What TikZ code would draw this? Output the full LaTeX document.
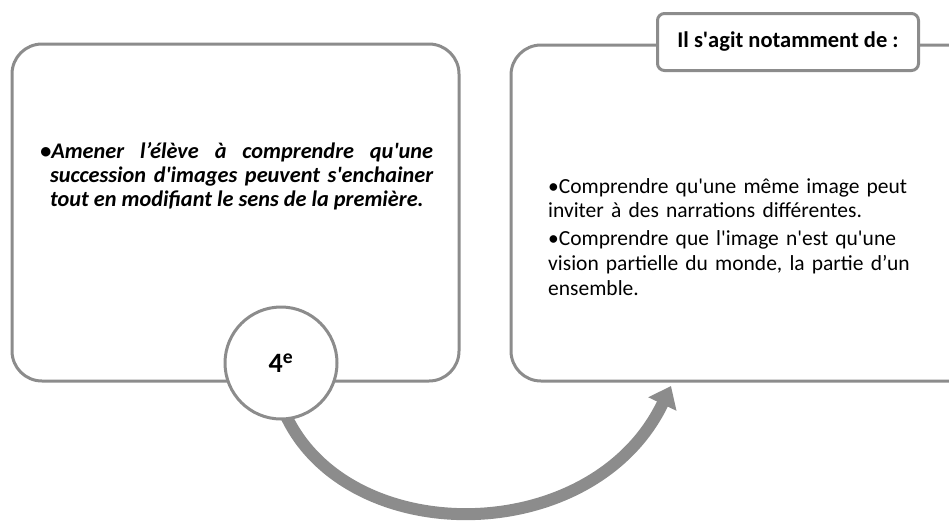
\documentclass[tikz,border=0pt]{standalone}
\usepackage{fontspec}
\setmainfont{Carlito}
\usetikzlibrary{arrows.meta}
\definecolor{boxgray}{HTML}{8C8C8C}
\newcommand{\ap}{\textquotesingle}
\tikzset{
  bigbox/.style={draw=boxgray, line width=3pt, rounded corners=30pt, fill=white},
  labelbox/.style={draw=boxgray, line width=3pt, rounded corners=7pt, fill=white, minimum width=261pt, minimum height=57pt, font=\bfseries\fontsize{22.5}{26}\selectfont},
  yearcircle/.style={draw=boxgray, line width=3pt, circle, fill=white, minimum size=112pt, font=\bfseries\fontsize{28}{30}\selectfont},
  bigarrow/.style={draw=boxgray, line width=12pt, -{Triangle[width=30pt,length=20pt]}},
  lefttext/.style={anchor=north west, inner sep=0pt, text width=393pt, align=justify, font=\bfseries\itshape\fontsize{22.3}{24}\selectfont},
  righttext/.style={anchor=north west, inner sep=0pt, text width=390pt, align=left, font=\fontsize{21.5}{24.8}\selectfont}
}
\begin{document}
\begin{tikzpicture}[x=1pt,y=-1pt]
\useasboundingbox (0,0) rectangle (949,520);
\clip (0,0) rectangle (949,520);
% left box
\draw[bigbox] (12,44) rectangle (459,381);
\node (lbox) at (235.5,212.5) {};
% right box
\draw[bigbox] (511,45) rectangle (985,381);
\node (rbox) at (748,213) {};
% header label
\node[labelbox] (head) at (788,42) {Il s\ap agit notamment de :};
% texts
\node[lefttext] (ltxt) at (40,142) {\hyphenpenalty=10000\hangindent=10pt\hangafter=1 \textbullet Amener l’élève à comprendre qu\ap une\linebreak succession d\ap images peuvent s\ap enchainer\linebreak tout en modifiant le sens de la première.\par};
\node[righttext] (rtxt) at (548,178) {\textbullet Comprendre qu\ap une même image peut\\ inviter à des narrations différentes.\\[3pt]\textbullet Comprendre que l\ap image n\ap est qu\ap une\\ vision partielle du monde, la partie d’un\\ ensemble.};
% arrow
\coordinate (aend) at (671,386);
\coordinate (astart) at (278,395);
\draw[bigarrow] (astart) .. controls (325,550) and (590,555) .. (aend);
% circle
\node[yearcircle] (year) at (281,363) {4\textsuperscript{e}};
\end{tikzpicture}
\end{document}
